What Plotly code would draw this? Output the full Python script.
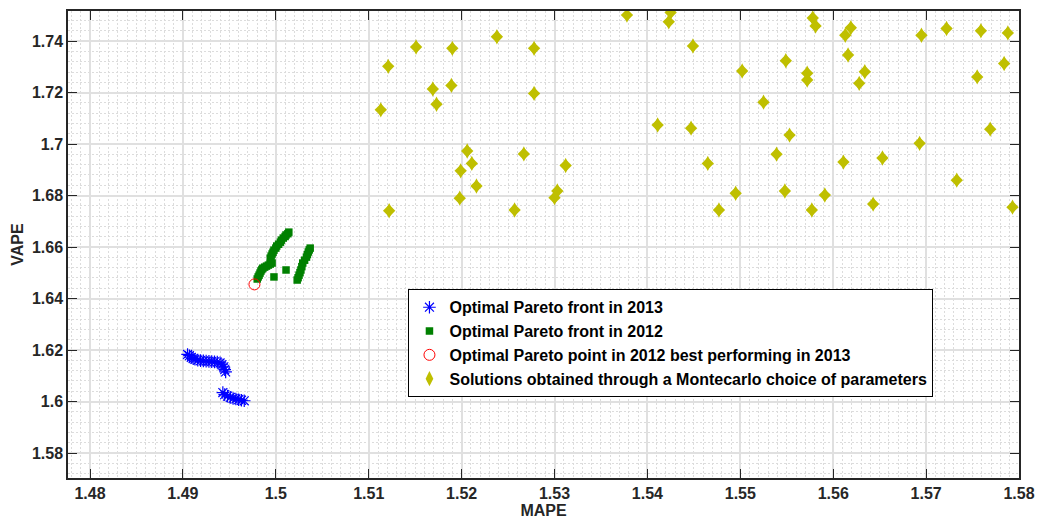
import plotly.graph_objects as go

# Optimal Pareto front in 2013 (blue asterisks)
front2013_x = [1.4905, 1.4907, 1.4909, 1.4911, 1.4913, 1.4916, 1.4919, 1.4922, 1.4925, 1.4928,
               1.4931, 1.4934, 1.4937, 1.4940, 1.4942, 1.4944, 1.4945, 1.4946,
               1.4943, 1.4945, 1.4948, 1.4951, 1.4954, 1.4957, 1.4960, 1.4963, 1.4966]
front2013_y = [1.6183, 1.6178, 1.6172, 1.6167, 1.6164, 1.6161, 1.6159, 1.6158, 1.6157, 1.6156,
               1.6155, 1.6154, 1.6153, 1.6150, 1.6143, 1.6135, 1.6124, 1.6115,
               1.6035, 1.6027, 1.6021, 1.6016, 1.6012, 1.6010, 1.6007, 1.6005, 1.6003]

# Optimal Pareto front in 2012 (green squares)
front2012_x = [1.4980, 1.4981, 1.4982, 1.4983, 1.4984, 1.4985, 1.4986, 1.4988, 1.4990, 1.4992,
               1.4994, 1.4996,
               1.4994, 1.4995, 1.4996, 1.4997, 1.4998, 1.5000, 1.5001, 1.5003, 1.5005,
               1.5006, 1.5008, 1.5010, 1.5011, 1.5013, 1.5014,
               1.4998, 1.5011,
               1.5023, 1.5024, 1.5025, 1.5026, 1.5027, 1.5028, 1.5029, 1.5031, 1.5033,
               1.5034, 1.5035, 1.5036, 1.5037]
front2012_y = [1.6476, 1.6484, 1.6491, 1.6499, 1.6507, 1.6513, 1.6518, 1.6522, 1.6526, 1.6530,
               1.6534, 1.6538,
               1.6557, 1.6565, 1.6573, 1.6580, 1.6588, 1.6596, 1.6604, 1.6611, 1.6619,
               1.6627, 1.6635, 1.6641, 1.6647, 1.6652, 1.6658,
               1.6484, 1.6511,
               1.6472, 1.6481, 1.6491, 1.6501, 1.6511, 1.6524, 1.6538, 1.6549, 1.6561,
               1.6571, 1.6581, 1.6589, 1.6596]

# Optimal Pareto point in 2012 best performing in 2013 (red circle)
best_x = [1.4977]
best_y = [1.6455]

# Montecarlo solutions (yellow diamonds)
mc_x = [1.5238, 1.5151, 1.5190, 1.5278, 1.5121, 1.5169, 1.5189, 1.5278, 1.5173, 1.5113,
        1.5206, 1.5267, 1.5211, 1.5312, 1.5199, 1.5216, 1.5303, 1.5300, 1.5198, 1.5122,
        1.5257,
        1.5378, 1.5425, 1.5423, 1.5578, 1.5449, 1.5549, 1.5502, 1.5572, 1.5572, 1.5525,
        1.5411, 1.5447, 1.5553, 1.5539, 1.5465, 1.5495, 1.5548, 1.5477, 1.5577,
        1.5581, 1.5619, 1.5613, 1.5695, 1.5722, 1.5759, 1.5788, 1.5616, 1.5784, 1.5634,
        1.5755, 1.5628, 1.5769, 1.5693, 1.5653, 1.5611, 1.5733, 1.5591, 1.5643, 1.5793]
mc_y = [1.7417, 1.7377, 1.7372, 1.7372, 1.7302, 1.7214, 1.7228, 1.7197, 1.7155, 1.7133,
        1.6973, 1.6962, 1.6925, 1.6917, 1.6896, 1.6837, 1.6818, 1.6792, 1.6790, 1.6741,
        1.6744,
        1.7501, 1.7511, 1.7475, 1.7490, 1.7381, 1.7324, 1.7284, 1.7275, 1.7249, 1.7163,
        1.7074, 1.7062, 1.7035, 1.6961, 1.6925, 1.6809, 1.6818, 1.6744, 1.6744,
        1.7459, 1.7452, 1.7423, 1.7423, 1.7449, 1.7440, 1.7432, 1.7346, 1.7313, 1.7281,
        1.7261, 1.7236, 1.7058, 1.7003, 1.6946, 1.6930, 1.6860, 1.6802, 1.6767, 1.6755]

series_names = ["Optimal Pareto front in 2013",
                "Optimal Pareto front in 2012",
                "Optimal Pareto point in 2012 best performing in 2013",
                "Solutions obtained through a Montecarlo choice of parameters"]

x_tickvals = [1.48, 1.49, 1.50, 1.51, 1.52, 1.53, 1.54, 1.55, 1.56, 1.57, 1.58]
x_ticktext = ["1.48", "1.49", "1.5", "1.51", "1.52", "1.53", "1.54", "1.55", "1.56", "1.57", "1.58"]
y_tickvals = [1.58, 1.60, 1.62, 1.64, 1.66, 1.68, 1.70, 1.72, 1.74]
y_ticktext = ["1.58", "1.6", "1.62", "1.64", "1.66", "1.68", "1.7", "1.72", "1.74"]

FONT = "Liberation Sans"
DIAMOND = "#bfbf00"

fig = go.Figure()
fig.add_trace(go.Scatter(
    x=front2013_x, y=front2013_y, mode="markers", name="<b>" + series_names[0] + "</b>",
    marker=dict(symbol="asterisk-open", size=10.5, color="#0000ff", line=dict(color="#0000ff", width=1.2))))
fig.add_trace(go.Scatter(
    x=front2012_x, y=front2012_y, mode="markers", name="<b>" + series_names[1] + "</b>",
    marker=dict(symbol="square", size=7.5, color="#008000", line=dict(width=0))))
fig.add_trace(go.Scatter(
    x=best_x, y=best_y, mode="markers", name="<b>" + series_names[2] + "</b>",
    marker=dict(symbol="circle-open", size=11, color="#ff0000", line=dict(color="#ff0000", width=1))))
fig.add_trace(go.Scatter(
    x=mc_x, y=mc_y, mode="markers", name="<b>" + series_names[3] + "</b>", legendgroup="mc",
    marker=dict(symbol="diamond-tall", size=11, color=DIAMOND, line=dict(width=0))))
# widen the body of the same diamonds (MATLAB-style diamond shape)
fig.add_trace(go.Scatter(
    x=mc_x, y=mc_y, mode="markers", showlegend=False, legendgroup="mc", hoverinfo="skip",
    marker=dict(symbol="diamond", size=9.5, color=DIAMOND, line=dict(width=0))))

axis_common = dict(
    showline=True, linecolor="#262626", linewidth=1.5, mirror="ticks",
    ticks="inside", ticklen=9, tickcolor="#262626", tickwidth=1.2,
    showgrid=True, gridcolor="#e0e0e0", gridwidth=1.5, zeroline=False, automargin=False,
    tickfont=dict(family=FONT, size=16, color="#262626", weight="bold"),
)

fig.update_xaxes(
    range=[1.47763, 1.58], tickvals=x_tickvals, ticktext=x_ticktext,
    title=dict(text="<b>MAPE</b>", font=dict(family=FONT, size=16, color="#262626"), standoff=4),
    minor=dict(dtick=0.001, tick0=1.48, showgrid=True, gridcolor="#dcdcdc", griddash="2px,2px", gridwidth=1, ticks=""),
    **axis_common)
fig.update_yaxes(
    range=[1.5703, 1.7517], tickvals=y_tickvals, ticktext=y_ticktext,
    title=dict(text="<b>VAPE</b>", font=dict(family=FONT, size=16, color="#262626"), standoff=4),
    minor=dict(dtick=0.004, tick0=1.58, showgrid=True, gridcolor="#dcdcdc", griddash="2px,2px", gridwidth=1, ticks=""),
    **axis_common)

fig.update_layout(
    width=1039, height=521,
    margin=dict(l=68, r=20, t=11, b=43),
    paper_bgcolor="white", plot_bgcolor="white",
    font=dict(family=FONT, color="#262626"),
    showlegend=True,
    legend=dict(
        x=0.358, y=0.404, xanchor="left", yanchor="top",
        bgcolor="white", bordercolor="#000000", borderwidth=1,
        font=dict(family=FONT, size=16, color="#000000"),
        tracegroupgap=0, itemwidth=30,
    ),
)

fig.write_html("out.html", config={"displayModeBar": False},
               post_script="document.body.style.margin='0px';document.body.style.overflow='hidden';")
